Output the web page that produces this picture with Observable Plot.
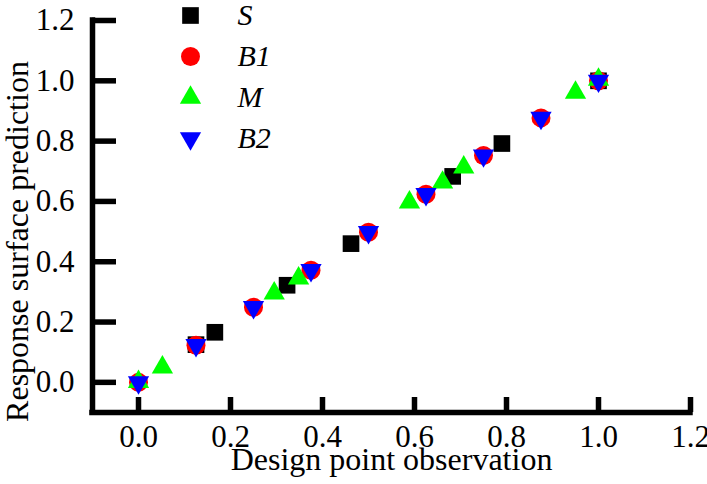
<!DOCTYPE html>
<html>
<head>
<meta charset="utf-8">
<script src="https://cdn.jsdelivr.net/npm/d3@7"></script>
<script src="https://cdn.jsdelivr.net/npm/@observablehq/plot@0.6"></script>
<style>
  html, body { margin: 0; padding: 0; background: #fff; }
  #chart svg { display: block; }
  #chart svg, #chart svg * { font-family: "Liberation Serif", "Times New Roman", serif !important; }
</style>
</head>
<body>
<div id="chart"></div>
<script>
// Design point observation (x) vs response surface prediction (y), per design
const sX  = [0.125, 0.166, 0.323, 0.462, 0.683, 0.790, 1.000];
const sY  = [0.125, 0.166, 0.322, 0.460, 0.683, 0.792, 1.000];

const b1X = [0.000, 0.125, 0.250, 0.375, 0.500, 0.625, 0.750, 0.875, 1.000];
const b1Y = [0.000, 0.123, 0.249, 0.372, 0.498, 0.624, 0.752, 0.877, 1.000];

const mX  = [0.000, 0.052, 0.295, 0.348, 0.589, 0.661, 0.707, 0.950, 1.000];
const mY  = [0.002, 0.050, 0.295, 0.345, 0.597, 0.663, 0.713, 0.961, 1.004];

const b2X = [0.000, 0.125, 0.250, 0.375, 0.500, 0.625, 0.750, 0.875, 1.000];
const b2Y = [0.000, 0.123, 0.249, 0.372, 0.498, 0.624, 0.752, 0.877, 1.000];

const seriesNames = ["S", "B1", "M", "B2"];
const xTicks = [0.0, 0.2, 0.4, 0.6, 0.8, 1.0, 1.2];
const yTicks = [0.0, 0.2, 0.4, 0.6, 0.8, 1.0, 1.2];

// downward-pointing equilateral triangle, same area convention as d3.symbolTriangle
const triangleDown = {
  draw(context, size) {
    const y = -Math.sqrt(size / (Math.sqrt(3) * 3));
    context.moveTo(0, -y * 2);
    context.lineTo(Math.sqrt(3) * y, y);
    context.lineTo(-Math.sqrt(3) * y, y);
    context.closePath();
  }
};

const zip = (xs, ys) => xs.map((x, i) => ({x, y: ys[i]}));
const series = [
  {name: seriesNames[0], data: zip(sX, sY),   symbol: "square",   r: 9.4, color: "#000000"},
  {name: seriesNames[1], data: zip(b1X, b1Y), symbol: "circle",   r: 9.5, color: "#ff0000"},
  {name: seriesNames[2], data: zip(mX, mY),   symbol: "triangle", r: 7.9, color: "#00ff00"},
  {name: seriesNames[3], data: zip(b2X, b2Y), symbol: triangleDown, r: 7.9, color: "#0000ff"}
];

const W = 707, H = 484;
const mL = 92, mR = 17, mT = 20, mB = 72;
const frameW = W - mL - mR, frameH = H - mT - mB;
const lw = 5.5;
const serif = "Liberation Serif";

const dataMarks = series.map(s =>
  Plot.dot(s.data, {x: "x", y: "y", symbol: s.symbol, r: s.r, fill: s.color, stroke: "none"})
);

const legendMarks = series.flatMap((s, i) => [
  Plot.dot([s], {frameAnchor: "top-left", dx: 98, dy: -5 + 41 * i,
    symbol: s.symbol, r: s.r, fill: s.color, stroke: "none"}),
  Plot.text([s], {frameAnchor: "top-left", dx: 145, dy: -5 + 41 * i,
    text: d => d.name, textAnchor: "start", lineAnchor: "middle",
    fontSize: 30, fontStyle: "italic", fontFamily: serif, fill: "black"})
]);

const chart = Plot.plot({
  width: W,
  height: H,
  marginLeft: mL,
  marginRight: mR,
  marginTop: mT,
  marginBottom: mB,
  style: {fontFamily: serif, background: "white", overflow: "visible", color: "black"},
  x: {domain: [-0.1, 1.2]},
  y: {domain: [-0.1, 1.2]},
  marks: [
    // tick labels
    Plot.axisX({ticks: xTicks, tickSize: 0, tickPadding: 12, tickFormat: d3.format(".1f"),
      label: null, fontSize: 31}),
    Plot.axisY({ticks: yTicks, tickSize: 0, tickPadding: 18, tickFormat: d3.format(".1f"),
      label: null, fontSize: 31}),
    // inward tick marks
    Plot.tickX(xTicks, {x: d => d, insetTop: frameH - 15, stroke: "black", strokeWidth: lw}),
    Plot.tickY(yTicks, {y: d => d, insetRight: frameW - 24, stroke: "black", strokeWidth: lw}),
    // axis lines
    Plot.ruleX([-0.1], {stroke: "black", strokeWidth: lw, strokeLinecap: "square"}),
    Plot.ruleY([-0.1], {stroke: "black", strokeWidth: lw, strokeLinecap: "square"}),
    // axis titles
    Plot.text(["Design point observation"], {frameAnchor: "bottom", dy: 47,
      text: d => d, textAnchor: "middle", lineAnchor: "middle",
      fontSize: 32, fontFamily: serif, fill: "black"}),
    Plot.text(["Response surface prediction"], {frameAnchor: "left", dx: -75, dy: 25,
      rotate: -90, text: d => d, textAnchor: "middle", lineAnchor: "middle",
      fontSize: 32, fontFamily: serif, fill: "black"}),
    ...dataMarks,
    ...legendMarks
  ]
});

document.getElementById("chart").appendChild(chart);
</script>
</body>
</html>
